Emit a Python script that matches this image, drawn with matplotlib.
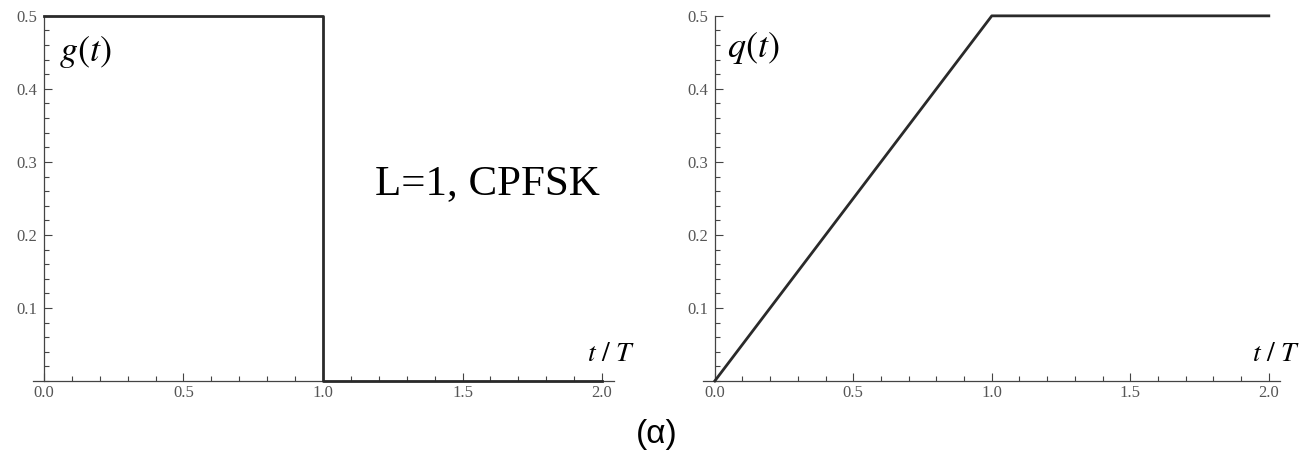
import numpy as np
import matplotlib.pyplot as plt
from matplotlib.ticker import MultipleLocator

plt.rcParams['font.family'] = ['Liberation Serif', 'DejaVu Serif']
plt.rcParams['mathtext.fontset'] = 'stix'

# g(t): rectangular frequency pulse, q(t): its integral (phase pulse)
t_g = [0.0, 1.0, 1.0, 2.0]
g_vals = [0.5, 0.5, 0.0, 0.0]
t_q = [0.0, 1.0, 2.0]
q_vals = [0.0, 0.5, 0.5]
x_ticks = [0.0, 0.5, 1.0, 1.5, 2.0]
y_ticks = [0.1, 0.2, 0.3, 0.4, 0.5]

fig = plt.figure(figsize=(13.04, 4.53), dpi=100)
ax1 = fig.add_axes([0.0253, 0.159, 0.4456, 0.806])
ax2 = fig.add_axes([0.539, 0.159, 0.4425, 0.806])

axis_col = '#444444'
label_col = '#555555'
line_col = '#2a2a2a'


def style(ax, xlim):
    ax.set_xlim(*xlim)
    ax.set_ylim(0, 0.5)
    for s in ('top', 'right'):
        ax.spines[s].set_visible(False)
    ax.spines['left'].set_position(('data', 0))
    for s in ('left', 'bottom'):
        ax.spines[s].set_color(axis_col)
        ax.spines[s].set_linewidth(0.9)
    ax.set_xticks(x_ticks)
    ax.set_xticklabels(['%.1f' % v for v in x_ticks])
    ax.set_yticks(y_ticks)
    ax.set_yticklabels(['%.1f' % v for v in y_ticks])
    ax.xaxis.set_minor_locator(MultipleLocator(0.1))
    ax.yaxis.set_minor_locator(MultipleLocator(0.02))
    ax.tick_params(which='both', direction='in', colors=axis_col,
                   labelcolor=label_col, labelsize=12, width=0.8)
    ax.tick_params(which='major', length=6)
    ax.tick_params(which='minor', length=3.5)
    ax.tick_params(axis='x', pad=3)
    ax.tick_params(axis='y', pad=5)


style(ax1, (-0.039, 2.043))
style(ax2, (-0.043, 2.04))

ax1.plot(t_g, g_vals, color=line_col, lw=2.0, clip_on=False, zorder=5)
ax2.plot(t_q, q_vals, color=line_col, lw=2.0, clip_on=False, zorder=5)

ax1.text(0.055, 0.45, r'$g(t)$', fontsize=26, va='center', ha='left')
ax2.text(0.045, 0.456, r'$q(t)$', fontsize=26, va='center', ha='left')
ax1.text(1.946, 0.036, r'$t\ /\ T$', fontsize=20, va='center', ha='left')
ax2.text(1.94, 0.036, r'$t\ /\ T$', fontsize=20, va='center', ha='left')

fig.text(487 / 1304, 1 - 184 / 453, 'L=1, CPFSK', fontsize=31,
         ha='center', va='center')
fig.text(657 / 1304, 1 - 435 / 453, '(α)', fontsize=24,
         family=['Liberation Sans', 'DejaVu Sans'], ha='center', va='center')

fig.savefig('out.png', dpi=100)
